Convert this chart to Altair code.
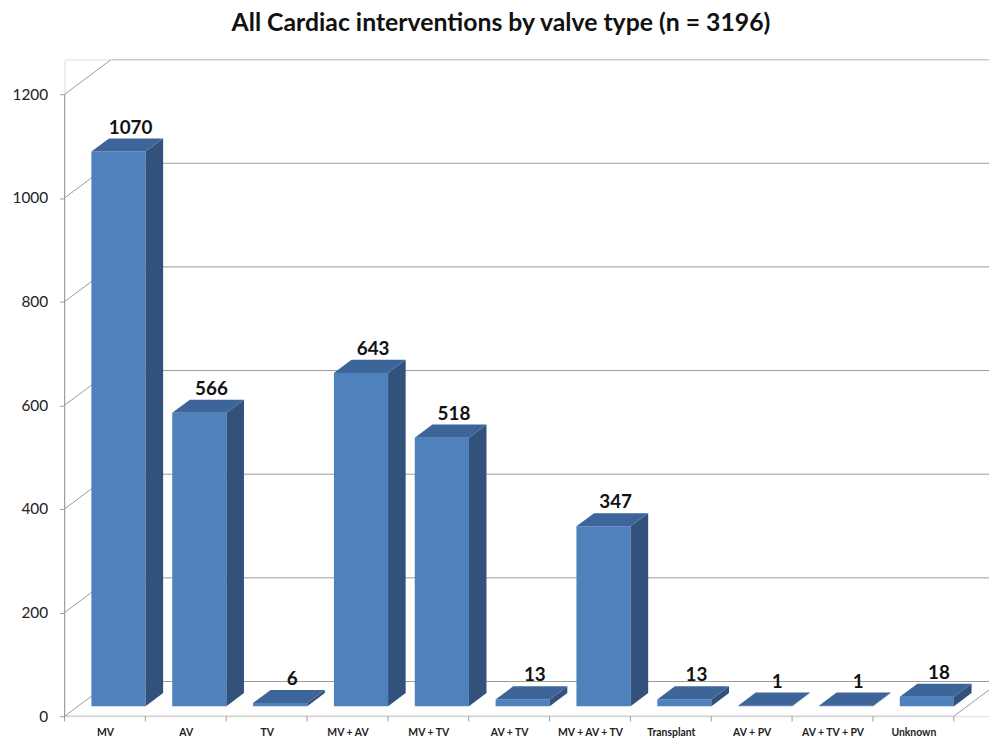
import json
import altair as alt
import pandas as pd

# ---- data ----
categories = ["MV", "AV", "TV", "MV + AV", "MV + TV", "AV + TV", "MV + AV + TV",
              "Transplant", "AV + PV", "AV + TV + PV", "Unknown"]
counts = [1070, 566, 6, 643, 518, 13, 347, 13, 1, 1, 18]
y_ticks = [0, 200, 400, 600, 800, 1000, 1200]
title_text = "All Cardiac interventions by valve type (n = 3196)"

# ---- 3D projection settings (in axis units) ----
N = len(categories)
YMAX = y_ticks[-1]
PX_PER_CAT = 81.5
PX_PER_VAL = 0.5225
W, H = 932, 662
XMAX = W / PX_PER_CAT
YDOM = H / PX_PER_VAL
D = 47 / PX_PER_CAT      # depth offset in x units
E = 35 / PX_PER_VAL      # depth offset in y units
F0, F1 = 0.29, 0.667     # bar front / back depth fractions
BW = 0.67                # bar width (category units)

front_rows, side_rows, top_rows, label_rows = [], [], [], []
for i, (c, v) in enumerate(zip(categories, counts)):
    xl = i + 0.5 - BW / 2 + F0 * D
    xr = i + 0.5 + BW / 2 + F0 * D
    dd = (F1 - F0) * D
    front_rows.append(dict(cat=c, x=xl, x2=xr, y=F0 * E, y2=v + F0 * E))
    side_rows.append(dict(cat=c, x=xr, y=v + F0 * E, y2=F0 * E))
    side_rows.append(dict(cat=c, x=xr + dd, y=v + F1 * E, y2=F1 * E))
    top_rows.append(dict(cat=c, y=v + F0 * E, x=xl, x2=xr))
    top_rows.append(dict(cat=c, y=v + F1 * E, x=xl + dd, x2=xr + dd))
    label_rows.append(dict(cat=c, x=i + 0.5 + 0.55 * D, y=v + F1 * E, label=str(v)))

front_df = pd.DataFrame(front_rows)
side_df = pd.DataFrame(side_rows)
top_df = pd.DataFrame(top_rows)
label_df = pd.DataFrame(label_rows)

# frame: wall gridlines, floor, front axis
frame_rows = []
for g in y_ticks:
    frame_rows.append(dict(x=0, x2=D, y=g, y2=g + E))
    frame_rows.append(dict(x=D, x2=XMAX, y=g + E, y2=g + E))
frame_rows.append(dict(x=0, x2=N, y=0, y2=0))
frame_rows.append(dict(x=N, x2=N + D, y=0, y2=E))
frame_df = pd.DataFrame(frame_rows)

axis_df = pd.DataFrame([dict(x=0, x2=0, y=-6, y2=YMAX)])
tick_df = pd.DataFrame([dict(x=i, y=0, y2=-10) for i in range(N + 1)])

xs = alt.Scale(domain=[0, XMAX], nice=False, zero=False)
ys = alt.Scale(domain=[0, YDOM], nice=False, zero=False)

grid_color = "#9a9a9a"

frame = alt.Chart(frame_df).mark_rule(color=grid_color, strokeWidth=1, clip=True).encode(
    x=alt.X("x:Q", scale=xs, axis=alt.Axis(
        values=[i + 0.5 for i in range(N)],
        labelExpr=json.dumps(categories) + "[floor(datum.value)]",
        ticks=False, domain=False, grid=False, title=None,
        labelFont="Lato", labelFontWeight="bold", labelFontSize=10.5,
        labelColor="#222222", labelPadding=11, labelOverlap=False, labelFlush=False)),
    x2="x2:Q",
    y=alt.Y("y:Q", scale=ys, axis=alt.Axis(
        values=y_ticks, format="d", domain=False, grid=False, title=None,
        tickSize=5, tickColor=grid_color, labelPadding=12,
        labelFont="Lato", labelFontSize=15.5, labelColor="#222222")),
    y2="y2:Q",
)

yaxis_line = alt.Chart(axis_df).mark_rule(color=grid_color, strokeWidth=1).encode(
    x=alt.X("x:Q", scale=xs), x2="x2:Q", y=alt.Y("y:Q", scale=ys), y2="y2:Q")

xticks = alt.Chart(tick_df).mark_rule(color=grid_color, strokeWidth=1).encode(
    x=alt.X("x:Q", scale=xs), y=alt.Y("y:Q", scale=ys), y2="y2:Q")

front = alt.Chart(front_df).mark_rect(color="#4F81BD").encode(
    x=alt.X("x:Q", scale=xs), x2="x2:Q", y=alt.Y("y:Q", scale=ys), y2="y2:Q")

side = alt.Chart(side_df).mark_area(color="#32527C").encode(
    x=alt.X("x:Q", scale=xs), y=alt.Y("y:Q", scale=ys), y2="y2:Q", detail="cat:N")

top = alt.Chart(top_df).mark_area(color="#3D659A", orient="horizontal").encode(
    y=alt.Y("y:Q", scale=ys), x=alt.X("x:Q", scale=xs), x2="x2:Q", detail="cat:N")

labels = alt.Chart(label_df).mark_text(
    font="Lato", fontWeight="bold", fontSize=19, color="#111111",
    baseline="alphabetic", dy=-5).encode(
    x=alt.X("x:Q", scale=xs), y=alt.Y("y:Q", scale=ys), text="label:N")

chart = alt.layer(frame, yaxis_line, xticks, front, side, top, labels).properties(
    width=W, height=H,
    title=alt.TitleParams(title_text, font="Lato", fontSize=25, fontWeight="bold",
                          color="#111111", anchor="middle", dx=-26, offset=24),
    autosize=alt.AutoSizeParams(type="none"),
    padding={"left": 57, "top": 49, "right": 0, "bottom": 25},
).configure_view(stroke=None).configure(background="white")

chart.save("out.html", embed_options={"renderer": "svg", "actions": False})
